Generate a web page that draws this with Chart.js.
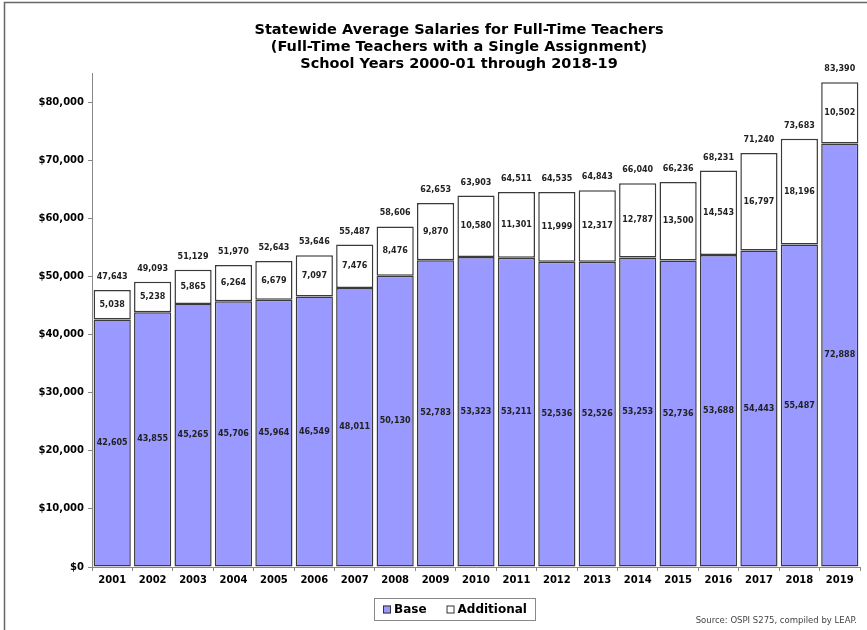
<!DOCTYPE html>
<html>
<head>
<meta charset="utf-8">
<script src="https://cdn.jsdelivr.net/npm/chart.js@4.4.1/dist/chart.umd.min.js"></script>
<style>
  html, body { margin: 0; padding: 0; background: #fff; }
  #wrap { width: 867px; height: 630px; }
</style>
</head>
<body>
<div id="wrap"><canvas id="salaryChart" width="867" height="630"></canvas></div>
<script>
// values
const years = ['2001', '2002', '2003', '2004', '2005', '2006', '2007', '2008', '2009', '2010',
               '2011', '2012', '2013', '2014', '2015', '2016', '2017', '2018', '2019'];
const baseSalary = [42605, 43855, 45265, 45706, 45964, 46549, 48011, 50130, 52783, 53323,
                    53211, 52536, 52526, 53253, 52736, 53688, 54443, 55487, 72888];
const additionalPay = [5038, 5238, 5865, 6264, 6679, 7097, 7476, 8476, 9870, 10580,
                       11301, 11999, 12317, 12787, 13500, 14543, 16797, 18196, 10502];
const totalSalary = [47643, 49093, 51129, 51970, 52643, 53646, 55487, 58606, 62653, 63903,
                     64511, 64535, 64843, 66040, 66236, 68231, 71240, 73683, 83390];
const yTicks = [0, 10000, 20000, 30000, 40000, 50000, 60000, 70000, 80000];
const titleLines = ['Statewide Average Salaries for Full-Time Teachers',
                    '(Full-Time Teachers with a Single Assignment)',
                    'School Years 2000-01 through 2018-19'];

const fmt = v => v.toLocaleString('en-US');
const labelFont = 'bold 8px "DejaVu Sans"';

// value labels inside / above the stacked bars
const barLabels = {
  id: 'barLabels',
  afterDatasetsDraw(chart) {
    const ctx = chart.ctx;
    const baseMeta = chart.getDatasetMeta(0);
    const addMeta = chart.getDatasetMeta(1);
    ctx.save();
    ctx.font = labelFont;
    ctx.fillStyle = '#222';
    ctx.textAlign = 'center';
    ctx.textBaseline = 'middle';
    baseMeta.data.forEach((bar, i) => {
      ctx.fillText(fmt(baseSalary[i]), bar.x, (bar.y + bar.base) / 2);
      const top = addMeta.data[i];
      ctx.fillText(fmt(additionalPay[i]), top.x, (top.y + top.base) / 2);
      ctx.fillText(fmt(totalSalary[i]), top.x, top.y - 13);
    });
    ctx.restore();
  }
};

// title, outer frame, boxed legend and source note
const extras = {
  id: 'extras',
  afterDraw(chart) {
    const ctx = chart.ctx;
    ctx.save();
    ctx.strokeStyle = '#666';
    ctx.lineWidth = 1.5;
    ctx.beginPath();
    ctx.moveTo(4.5, 640);
    ctx.lineTo(4.5, 2.5);
    ctx.lineTo(870, 2.5);
    ctx.stroke();

    ctx.font = 'bold 14.5px "DejaVu Sans"';
    ctx.fillStyle = '#000';
    ctx.textAlign = 'center';
    ctx.textBaseline = 'middle';
    titleLines.forEach((t, i) => ctx.fillText(t, 459, 30 + i * 17));

    // legend
    const lx = 374, ly = 598, lw = 161, lh = 22;
    ctx.fillStyle = '#fff';
    ctx.fillRect(lx, ly, lw, lh);
    ctx.strokeStyle = '#888';
    ctx.lineWidth = 1;
    ctx.strokeRect(lx + 0.5, ly + 0.5, lw, lh);
    ctx.font = 'bold 12px "DejaVu Sans"';
    ctx.textAlign = 'left';
    let x = lx + 9;
    const cy = ly + lh / 2 + 0.5;
    chart.data.datasets.forEach(ds => {
      ctx.fillStyle = ds.backgroundColor;
      ctx.fillRect(x, cy - 4, 8, 8);
      ctx.strokeStyle = '#333';
      ctx.strokeRect(x + 0.5, cy - 3.5, 7, 7);
      ctx.fillStyle = '#000';
      ctx.fillText(ds.label, x + 11, cy);
      x += 11 + ctx.measureText(ds.label).width + 20;
    });

    ctx.font = '8.5px "DejaVu Sans"';
    ctx.fillStyle = '#444';
    ctx.textAlign = 'right';
    ctx.fillText('Source: OSPI S275, compiled by LEAP.', 857, 621);
    ctx.restore();
  }
};

new Chart(document.getElementById('salaryChart'), {
  type: 'bar',
  data: {
    labels: years,
    datasets: [
      {
        label: 'Base',
        data: baseSalary,
        backgroundColor: '#9999ff',
        borderColor: '#3a3a3a',
        borderWidth: 1.5,
        borderSkipped: false
      },
      {
        label: 'Additional',
        data: additionalPay,
        backgroundColor: '#ffffff',
        borderColor: '#3a3a3a',
        borderWidth: 1.5,
        borderSkipped: false
      }
    ]
  },
  options: {
    responsive: false,
    animation: false,
    barPercentage: 0.92,
    categoryPercentage: 1,
    layout: { padding: { left: 0, right: 7, top: 73, bottom: 0 } },
    plugins: {
      legend: { display: false },
      tooltip: { enabled: false },
      title: { display: false }
    },
    scales: {
      x: {
        stacked: true,
        grid: { drawOnChartArea: false, tickLength: 4, color: '#888' },
        border: { color: '#888' },
        ticks: {
          padding: 3,
          color: '#000',
          font: { family: '"DejaVu Sans"', size: 10, weight: 'bold' }
        },
        afterFit(scale) { scale.height = 63; }
      },
      y: {
        stacked: true,
        min: 0,
        max: 85000,
        grid: { drawOnChartArea: false, tickLength: 4, color: '#888' },
        border: { color: '#888' },
        afterBuildTicks(scale) { scale.ticks = yTicks.map(v => ({ value: v })); },
        ticks: {
          padding: 4,
          color: '#000',
          font: { family: '"DejaVu Sans"', size: 10, weight: 'bold' },
          callback: v => '$' + fmt(v)
        },
        afterFit(scale) { scale.width = 92; }
      }
    }
  },
  plugins: [barLabels, extras]
});
</script>
</body>
</html>
